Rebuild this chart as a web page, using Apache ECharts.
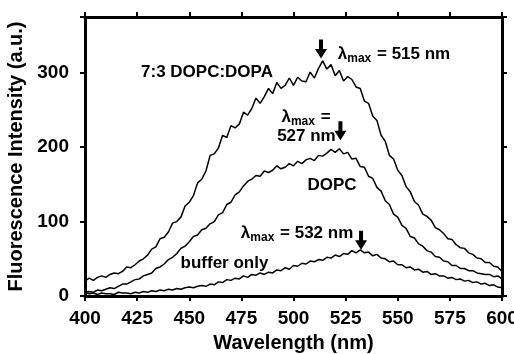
<!DOCTYPE html>
<html>
<head>
<meta charset="utf-8">
<script src="https://cdn.jsdelivr.net/npm/echarts@6/dist/echarts.min.js"></script>
<style>
  html, body { margin: 0; padding: 0; background: #fff; }
  #chart { width: 514px; height: 354px; }
</style>
</head>
<body>
<div id="chart"></div>
<script>
// wavelength grid, 400..600 nm every 2 nm
const wlStart = 400;
const wlStep = 2;

// 7:3 DOPC:DOPA
const dopaValues = [
  20, 24, 21, 25, 27, 25, 29, 31, 30, 33, 39, 38, 42, 47, 50, 55, 63, 66, 77, 79,
  86, 98, 100, 106, 121, 126, 135, 152, 157, 168, 189, 191, 199, 216, 213, 229, 226, 231, 247, 243,
  252, 266, 259, 268, 279, 272, 287, 279, 283, 293, 283, 294, 289, 288, 301, 293, 306, 316, 305, 311,
  296, 303, 289, 295, 291, 281, 279, 262, 259, 242, 236, 216, 208, 189, 184, 169, 162, 147, 140, 127,
  122, 110, 107, 102, 92, 89, 84, 77, 76, 69, 65, 64, 58, 56, 51, 50, 45, 45, 40, 39,
  33
];

// DOPC
const dopcValues = [
  5, 6, 5, 8, 7, 9, 11, 10, 13, 16, 16, 19, 22, 23, 27, 29, 31, 37, 39, 43,
  49, 52, 57, 64, 67, 73, 80, 82, 89, 91, 97, 100, 109, 112, 123, 126, 136, 140, 148, 154,
  157, 162, 161, 168, 166, 169, 175, 171, 173, 178, 175, 181, 178, 183, 185, 182, 189, 188, 192, 197,
  193, 198, 191, 193, 184, 185, 174, 173, 161, 158, 146, 141, 128, 123, 110, 106, 95, 91, 80, 78,
  70, 67, 61, 59, 53, 52, 47, 46, 41, 41, 37, 37, 34, 34, 31, 30, 29, 29, 26, 27,
  23
];

// buffer only
const bufferValues = [
  5, 3, 4, 2, 4, 3, 3, 2, 5, 4, 4, 3, 5, 4, 6, 5, 7, 6, 8, 7,
  9, 8, 10, 9, 11, 12, 11, 13, 14, 13, 16, 15, 19, 18, 22, 21, 24, 23, 27, 25,
  29, 28, 31, 29, 32, 31, 35, 34, 38, 36, 41, 40, 44, 43, 47, 46, 49, 48, 52, 51,
  55, 53, 57, 56, 61, 58, 62, 58, 59, 54, 56, 51, 50, 46, 47, 42, 42, 38, 39, 35,
  36, 32, 33, 29, 30, 27, 27, 24, 25, 22, 23, 20, 21, 18, 19, 16, 17, 14, 15, 12,
  11
];

const xTicks = [400, 425, 450, 475, 500, 525, 550, 575, 600];
const yTicks = [0, 100, 200, 300];

function pairs(vals) {
  return vals.map((v, i) => [wlStart + i * wlStep, v]);
}

const font = 'Liberation Sans, Arial, Helvetica, sans-serif';
const arrowPath = 'path://M4,0 L8,0 L8,10 L12,10 L6,20 L0,10 L4,10 Z';

const lambdaRich = {
  l: { fontSize: 17, fontWeight: 'bold', fontFamily: font, color: '#000' },
  s: { fontSize: 12, fontWeight: 'bold', fontFamily: font, color: '#000', padding: [9, 1, 0, 0] },
  n: { fontSize: 17, fontWeight: 'bold', fontFamily: font, color: '#000' }
};

function textPoint(coord, formatter) {
  return {
    coord: coord,
    symbol: 'circle',
    symbolSize: 1,
    itemStyle: { color: 'rgba(0,0,0,0)' },
    label: {
      show: true,
      position: 'inside',
      formatter: formatter,
      fontSize: 17,
      fontWeight: 'bold',
      fontFamily: font,
      color: '#000',
      rich: lambdaRich
    }
  };
}

function arrowPoint(coord) {
  return {
    coord: coord,
    symbol: arrowPath,
    symbolSize: [12, 19],
    itemStyle: { color: '#000' },
    label: { show: false }
  };
}

const lineStyle = { color: '#000', width: 1.5 };

const axisCommon = {
  axisLine: { show: true, onZero: false, lineStyle: { color: '#000', width: 3 } },
  axisTick: { show: true, inside: false, length: 5, lineStyle: { color: '#000', width: 2 } },
  splitLine: { show: false }
};

const chart = echarts.init(document.getElementById('chart'));
chart.setOption({
  animation: false,
  backgroundColor: '#fff',
  grid: { left: 85, right: 12, top: 17, bottom: 58, outerBoundsMode: 'none', containLabel: false },
  xAxis: [
    Object.assign({}, axisCommon, {
      type: 'value', min: 400, max: 600, interval: 25, position: 'bottom',
      name: 'Wavelength (nm)', nameLocation: 'middle', nameGap: 37,
      nameTextStyle: { fontSize: 20, fontWeight: 'bold', fontFamily: font, color: '#000' },
      axisLabel: {
        margin: 13, fontSize: 19, fontWeight: 'bold', fontFamily: font, color: '#000',
        customValues: xTicks
      }
    }),
    Object.assign({}, axisCommon, {
      type: 'value', min: 400, max: 600, interval: 25, position: 'top',
      axisLabel: { show: false }
    })
  ],
  yAxis: [
    Object.assign({}, axisCommon, {
      type: 'value', min: 0, max: 375, interval: 100, position: 'left',
      name: 'Fluorescence Intensity (a.u.)', nameLocation: 'middle', nameGap: 56,
      nameTextStyle: { fontSize: 20, fontWeight: 'bold', fontFamily: font, color: '#000' },
      axisLabel: {
        margin: 16, fontSize: 19, fontWeight: 'bold', fontFamily: font, color: '#000',
        customValues: yTicks
      }
    }),
    Object.assign({}, axisCommon, {
      type: 'value', min: 0, max: 375, interval: 100, position: 'right',
      axisLabel: { show: false }
    })
  ],
  series: [
    {
      name: '7:3 DOPC:DOPA', type: 'line', data: pairs(dopaValues),
      showSymbol: false, lineStyle: lineStyle, z: 3,
      markPoint: {
        animation: false,
        data: [
          textPoint([458.5, 300], '7:3 DOPC:DOPA'),
          arrowPoint([513.2, 332]),
          textPoint([548.2, 325], '{l|λ}{s|max}{n| = 515 nm}')
        ]
      }
    },
    {
      name: 'DOPC', type: 'line', data: pairs(dopcValues),
      showSymbol: false, lineStyle: lineStyle, z: 3,
      markPoint: {
        animation: false,
        data: [
          textPoint([506, 240], '{l|λ}{s|max}{n| =}'),
          textPoint([506.2, 214], '527 nm'),
          arrowPoint([522.5, 222]),
          textPoint([518.5, 149], 'DOPC')
        ]
      }
    },
    {
      name: 'buffer only', type: 'line', data: pairs(bufferValues),
      showSymbol: false, lineStyle: lineStyle, z: 3,
      markPoint: {
        animation: false,
        data: [
          textPoint([501.7, 84], '{l|λ}{s|max}{n| = 532 nm}'),
          arrowPoint([532.4, 75]),
          textPoint([466.9, 44], 'buffer only')
        ]
      }
    }
  ]
});
</script>
</body>
</html>
